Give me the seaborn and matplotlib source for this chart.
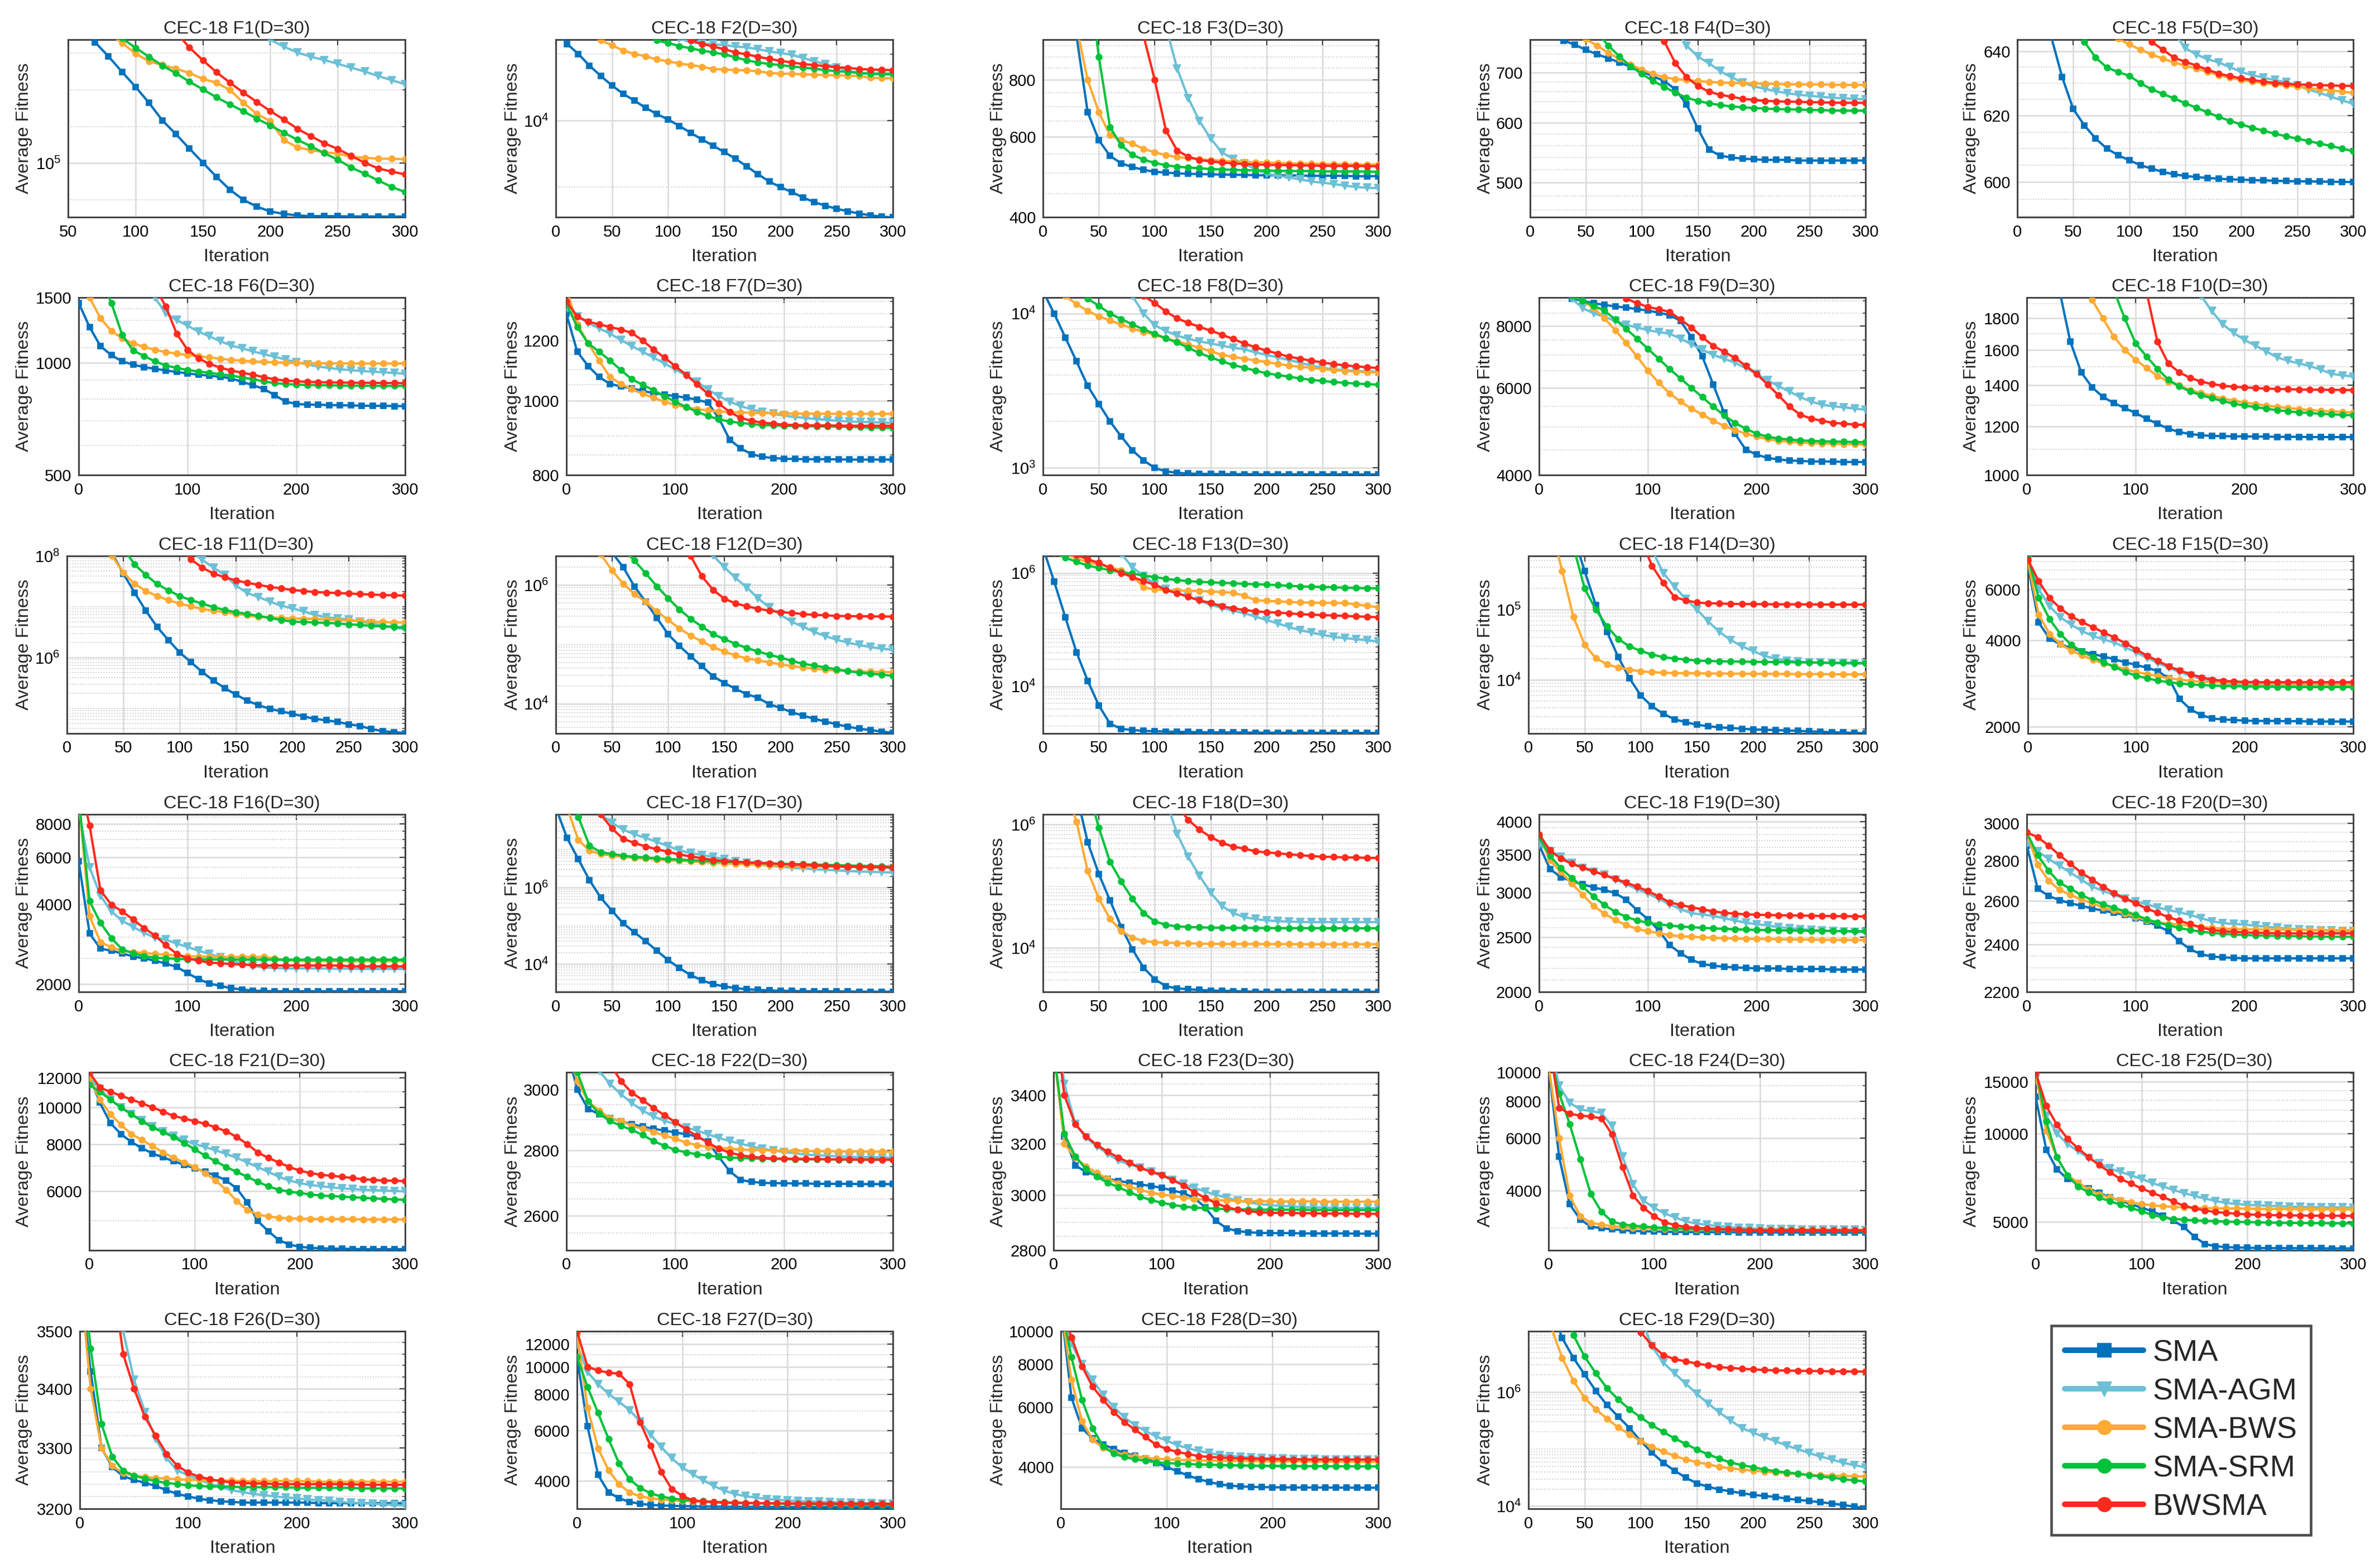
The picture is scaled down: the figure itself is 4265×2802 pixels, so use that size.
import numpy as np
import pandas as pd
import matplotlib
matplotlib.use("Agg")
import matplotlib.pyplot as plt
import seaborn as sns
from matplotlib.ticker import FixedLocator, FuncFormatter, MultipleLocator, LogLocator, NullLocator, NullFormatter
from matplotlib.lines import Line2D

# ---------------- data: average fitness read every 10 iterations ----------------
ITER = [0, 10, 20, 30, 40, 50, 60, 70, 80, 90, 100, 110, 120, 130, 140, 150, 160, 170, 180, 190,
        200, 210, 220, 230, 240, 250, 260, 270, 280, 290, 300]
ALGOS = ["SMA", "SMA-AGM", "SMA-BWS", "SMA-SRM", "BWSMA"]
TITLES = [f"CEC-18 F{i}(D=30)" for i in range(1, 30)]

F1_SMA = [3e6, 2.7e6, 2.5e6, 2.1e6, 1.8e6, 1.5e6, 1.27e6, 9.8e5, 7.5e5, 5.61e5, 4.23e5, 3.13e5, 2.24e5, 1.73e5, 1.32e5, 1.01e5, 7.76e4, 6.08e4, 5.02e4, 4.41e4, 4.03e4, 3.85e4, 3.74e4, 3.69e4, 3.69e4, 3.68e4, 3.67e4, 3.67e4, 3.66e4, 3.66e4, 3.66e4]
F1_AGM = [7e6, 6.5e6, 6e6, 5.5e6, 5e6, 4.5e6, 4e6, 3.75e6, 3.5e6, 3.25e6, 3e6, 2.75e6, 2.5e6, 2.25e6, 2e6, 1.8e6, 1.6e6, 1.45e6, 1.3e6, 1.15e6, 1.03e6, 9.03e5, 8.09e5, 7.46e5, 7.01e5, 6.53e5, 6.06e5, 5.65e5, 5.18e5, 4.8e5, 4.43e5]
F1_BWS = [5e6, 4.2e6, 3.5e6, 3e6, 2.5e6, 2.1e6, 1.7e6, 1.4e6, 1.17e6, 9.68e5, 7.93e5, 6.84e5, 6.38e5, 5.95e5, 5.49e5, 4.91e5, 4.57e5, 3.99e5, 3.13e5, 2.54e5, 2.21e5, 1.55e5, 1.35e5, 1.28e5, 1.23e5, 1.2e5, 1.13e5, 1.11e5, 1.09e5, 1.09e5, 1.08e5]
F1_SRM = [5e6, 4.5e6, 4e6, 3.5e6, 3e6, 2.5e6, 2e6, 1.6e6, 1.3e6, 1.06e6, 8.83e5, 7.46e5, 6.31e5, 5.46e5, 4.66e5, 4.03e5, 3.47e5, 3.04e5, 2.67e5, 2.32e5, 2.04e5, 1.78e5, 1.56e5, 1.38e5, 1.21e5, 1.07e5, 9.23e4, 8.22e4, 7.23e4, 6.4e4, 5.81e4]
F1_BW = [8e6, 7.2e6, 6.5e6, 6e6, 5.5e6, 5e6, 4.5e6, 4e6, 3.5e6, 3e6, 2.5e6, 2e6, 1.55e6, 1.18e6, 8.89e5, 6.97e5, 5.58e5, 4.58e5, 3.79e5, 3.18e5, 2.68e5, 2.28e5, 1.92e5, 1.67e5, 1.46e5, 1.31e5, 1.15e5, 1.01e5, 9.08e4, 8.55e4, 8.11e4]

F2_SMA = [2.6e4, 2.22e4, 2.0e4, 1.77e4, 1.59e4, 1.44e4, 1.32e4, 1.23e4, 1.14e4, 1.07e4, 1.01e4, 9.45e3, 8.8e3, 8.22e3, 7.7e3, 7.2e3, 6.72e3, 6.2e3, 5.72e3, 5.3e3, 5.0e3, 4.75e3, 4.49e3, 4.28e3, 4.12e3, 3.99e3, 3.89e3, 3.8e3, 3.73e3, 3.68e3, 3.65e3]
F2_AGM = [6.5e4, 6.1e4, 5.7e4, 5.3e4, 4.9e4, 4.55e4, 4.2e4, 3.85e4, 3.5e4, 3.1e4, 2.7e4, 2.35e4, 2.25e4, 2.23e4, 2.21e4, 2.19e4, 2.16e4, 2.14e4, 2.1e4, 2.05e4, 2.02e4, 1.98e4, 1.92e4, 1.85e4, 1.8e4, 1.74e4, 1.68e4, 1.64e4, 1.62e4, 1.61e4, 1.61e4]
F2_BWS = [3.3e4, 3.0e4, 2.75e4, 2.5e4, 2.3e4, 2.19e4, 2.07e4, 2.0e4, 1.95e4, 1.89e4, 1.85e4, 1.81e4, 1.78e4, 1.75e4, 1.71e4, 1.70e4, 1.69e4, 1.685e4, 1.67e4, 1.64e4, 1.63e4, 1.625e4, 1.62e4, 1.61e4, 1.605e4, 1.6e4, 1.595e4, 1.59e4, 1.56e4, 1.555e4, 1.55e4]
F2_SRM = [4.5e4, 4.2e4, 3.9e4, 3.6e4, 3.3e4, 3.05e4, 2.85e4, 2.65e4, 2.45e4, 2.3e4, 2.24e4, 2.17e4, 2.12e4, 2.07e4, 2.03e4, 1.99e4, 1.93e4, 1.87e4, 1.83e4, 1.8e4, 1.78e4, 1.755e4, 1.735e4, 1.715e4, 1.69e4, 1.67e4, 1.66e4, 1.64e4, 1.63e4, 1.63e4, 1.625e4]
F2_BW = [6e4, 5.6e4, 5.2e4, 4.85e4, 4.5e4, 4.2e4, 3.9e4, 3.6e4, 3.3e4, 3.0e4, 2.75e4, 2.5e4, 2.3e4, 2.22e4, 2.16e4, 2.1e4, 2.03e4, 1.99e4, 1.94e4, 1.9e4, 1.86e4, 1.83e4, 1.8e4, 1.78e4, 1.76e4, 1.74e4, 1.73e4, 1.71e4, 1.70e4, 1.695e4, 1.69e4]

F3_SMA = [2500, 1900, 1400, 1000, 680, 590, 545, 525, 515, 508, 503, 501, 499, 498, 497, 496.5, 496, 495.5, 495, 494.5, 494, 494, 494, 493.5, 493, 493, 493, 492.5, 492, 492, 492]
F3_AGM = [6000, 5500, 5000, 4500, 4000, 3500, 3000, 2600, 2200, 1800, 1400, 1050, 848, 730, 650, 595, 555, 537, 524, 510, 498, 493, 489, 484, 479, 476, 473, 469, 466, 464, 463]
F3_BWS = [3000, 2200, 1500, 1050, 800, 680, 605, 590, 580, 565, 555, 547, 542, 539, 536, 534, 532, 530, 529, 528, 527, 526, 525, 524.5, 524, 523.5, 523, 522.5, 522, 522, 522]
F3_SRM = [4000, 3200, 2500, 1900, 1400, 900, 630, 575, 548, 535, 526, 520, 516, 514, 512, 510, 509, 508, 507, 506.5, 506, 505.5, 505, 505, 505, 504.5, 504, 504, 504, 503.5, 503]
F3_BW = [5000, 4500, 4000, 3500, 3000, 2500, 2000, 1600, 1300, 1000, 800, 620, 560, 543, 534, 530, 527, 525, 523, 522, 521, 520.5, 520, 519.5, 519, 518.5, 518, 518, 518, 517.5, 517]

F4_SMA = [900, 860, 820, 772, 762, 750, 740, 731, 722, 712, 702, 692, 682, 665, 635, 590, 553, 543, 540, 538, 537, 536, 536, 536, 535, 535, 535, 535, 535, 535, 535]
F4_AGM = [1500, 1450, 1400, 1350, 1300, 1250, 1200, 1150, 1100, 1020, 950, 900, 850, 800, 760, 735, 720, 703, 690, 679, 671, 666, 661, 657, 654, 652, 650, 648, 647, 646, 645]
F4_BWS = [1100, 1020, 950, 880, 820, 775, 760, 743, 730, 717, 706, 697, 690, 686, 684, 682, 680, 679, 678, 677.5, 677, 676.5, 676, 675.5, 675, 675, 675, 674.5, 674, 674, 674]
F4_SRM = [1200, 1120, 1050, 970, 900, 840, 790, 760, 735, 713, 697, 682, 670, 658, 648, 642, 637, 634, 631, 629.5, 628, 627, 626, 625.5, 625, 624.5, 624, 623.5, 623, 623, 623]
F4_BW = [1400, 1350, 1300, 1250, 1200, 1150, 1100, 1020, 950, 900, 850, 810, 770, 720, 690, 672, 660, 654, 650, 646, 644, 642, 641, 640.5, 640, 639.5, 639, 638.5, 638, 638, 638]

F5_SMA = [700, 680, 665, 645, 632, 622, 617, 613, 610, 608, 606.5, 605, 604, 603, 602.3, 601.8, 601.5, 601.2, 601.0, 600.8, 600.7, 600.6, 600.5, 600.4, 600.3, 600.25, 600.2, 600.15, 600.1, 600.05, 600.0]
F5_AGM = [850, 835, 820, 805, 790, 775, 760, 745, 730, 715, 700, 685, 670, 656, 646, 641, 639, 637.5, 636.5, 635, 633.5, 632.5, 631.7, 631, 630.3, 629.3, 628, 627, 625.8, 624.7, 623.6]
F5_BWS = [720, 710, 700, 690, 680, 672, 665, 657, 650, 644, 642.2, 640.5, 639, 637.7, 636.5, 635.5, 634.5, 633.5, 632.5, 631.7, 631, 630.5, 630, 629.6, 629.3, 628.9, 628.5, 628.1, 627.8, 627.4, 627.0]
F5_SRM = [700, 690, 680, 670, 660, 651, 643, 638, 634.9, 633.5, 632.3, 630, 628.1, 626.7, 625.3, 623.8, 622.4, 621, 619.6, 618.4, 617.3, 616.3, 615.4, 614.5, 613.7, 613, 612.3, 611.5, 610.8, 610, 609.2]
F5_BW = [800, 785, 770, 755, 740, 725, 710, 695, 680, 670, 660, 650, 643, 640.5, 638, 636.7, 635.5, 634.2, 633, 632.2, 631.5, 631, 630.5, 630.1, 629.8, 629.6, 629.5, 629.4, 629.3, 629.2, 629.2]

F6_SMA = [1450, 1250, 1110, 1050, 1010, 990, 975, 965, 955, 946, 938, 930, 925, 918, 910, 890, 872, 852, 820, 788, 776, 773, 772, 771, 770, 769, 768, 767, 767, 766, 766]
F6_AGM = [3500, 3250, 3000, 2750, 2500, 2150, 1800, 1500, 1360, 1305, 1260, 1215, 1180, 1145, 1115, 1095, 1075, 1057, 1040, 1022, 1005, 991, 979, 970, 962, 957, 952, 948, 944, 940, 936]
F6_BWS = [1700, 1500, 1320, 1220, 1165, 1130, 1105, 1085, 1070, 1060, 1050, 1042, 1035, 1027, 1020, 1015, 1010, 1007, 1004, 1002, 1000, 999.5, 999, 998.5, 998, 997.5, 997, 997, 997, 997, 997]
F6_SRM = [2200, 1950, 1700, 1450, 1190, 1080, 1045, 1010, 985, 970, 958, 949, 941, 933, 925, 915, 905, 893, 883, 878, 875, 873, 872, 871, 870, 869.5, 869, 868.5, 868, 868, 868]
F6_BW = [3000, 2800, 2600, 2400, 2200, 2000, 1800, 1600, 1420, 1200, 1085, 1030, 995, 972, 955, 942, 930, 916, 904, 897, 893, 890, 888, 887, 886, 885.5, 885, 884.5, 884, 883.5, 883]

F7_SMA = [1300, 1160, 1111, 1075, 1053, 1045, 1039, 1031, 1024, 1019, 1015, 1010, 1004, 995, 950, 890, 867, 852, 845, 842, 840, 839.5, 839, 839, 839, 838.5, 838, 838, 838, 838, 838]
F7_AGM = [1320, 1290, 1265, 1245, 1225, 1202, 1180, 1160, 1140, 1120, 1100, 1080, 1060, 1035, 1015, 998, 985, 975, 968, 962, 957, 953, 950, 947, 944, 942, 940, 939, 938, 937, 936]
F7_BWS = [1400, 1260, 1190, 1130, 1075, 1053, 1036, 1022, 1010, 998, 988, 981, 976, 972, 969, 967, 966, 965, 964, 963.5, 963, 963, 963, 962.5, 962, 962, 962, 962, 962, 962, 962]
F7_SRM = [1340, 1250, 1190, 1160, 1130, 1098, 1068, 1050, 1033, 1015, 998, 982, 968, 956, 946, 940, 936, 933, 930, 929, 928, 927.5, 927, 926.5, 926, 925.5, 925, 924, 923, 922.5, 922]
F7_BW = [1350, 1290, 1270, 1260, 1250, 1240, 1228, 1200, 1168, 1140, 1111, 1082, 1052, 1022, 992, 968, 950, 942, 937, 934, 931, 930, 929, 929, 929, 928.5, 928, 928, 928, 928, 928]

F8_SMA = [1.4e4, 1.0e4, 7.0e3, 4.9e3, 3.4e3, 2.6e3, 2.0e3, 1.6e3, 1.3e3, 1.12e3, 1.0e3, 950, 930, 920, 915, 913, 912, 911, 911, 910, 910, 910, 910, 909, 909, 909, 909, 909, 908, 908, 908]
F8_AGM = [3.0e4, 2.75e4, 2.5e4, 2.25e4, 2.0e4, 1.8e4, 1.6e4, 1.45e4, 1.3e4, 1.0e4, 8.4e3, 7.7e3, 7.2e3, 6.85e3, 6.6e3, 6.4e3, 6.2e3, 6.0e3, 5.87e3, 5.6e3, 5.4e3, 5.2e3, 5.0e3, 4.8e3, 4.6e3, 4.45e3, 4.35e3, 4.3e3, 4.25e3, 4.22e3, 4.2e3]
F8_BWS = [1.6e4, 1.45e4, 1.3e4, 1.15e4, 1.04e4, 9.6e3, 9.0e3, 8.5e3, 8.0e3, 7.6e3, 7.3e3, 6.9e3, 6.6e3, 6.3e3, 6.0e3, 5.7e3, 5.4e3, 5.25e3, 5.1e3, 4.97e3, 4.85e3, 4.72e3, 4.6e3, 4.52e3, 4.45e3, 4.37e3, 4.3e3, 4.25e3, 4.2e3, 4.17e3, 4.15e3]
F8_SRM = [2.0e4, 1.8e4, 1.6e4, 1.42e4, 1.25e4, 1.12e4, 1.0e4, 9.2e3, 8.5e3, 7.9e3, 7.4e3, 6.9e3, 6.5e3, 6.0e3, 5.55e3, 5.2e3, 4.9e3, 4.65e3, 4.45e3, 4.27e3, 4.1e3, 4.0e3, 3.9e3, 3.8e3, 3.72e3, 3.66e3, 3.6e3, 3.56e3, 3.52e3, 3.49e3, 3.46e3]
F8_BW = [3.5e4, 3.25e4, 3.0e4, 2.75e4, 2.5e4, 2.25e4, 2.0e4, 1.75e4, 1.5e4, 1.3e4, 1.17e4, 1.03e4, 9.3e3, 8.7e3, 8.2e3, 7.75e3, 7.3e3, 6.85e3, 6.4e3, 6.05e3, 5.75e3, 5.5e3, 5.25e3, 5.1e3, 4.95e3, 4.82e3, 4.7e3, 4.62e3, 4.55e3, 4.49e3, 4.44e3]

F9_SMA = [1.0e4, 9.8e3, 9.6e3, 9.1e3, 9.0e3, 8.9e3, 8.83e3, 8.77e3, 8.72e3, 8.66e3, 8.6e3, 8.52e3, 8.42e3, 8.2e3, 7.6e3, 6.95e3, 6.1e3, 5.35e3, 4.85e3, 4.5e3, 4.4e3, 4.33e3, 4.3e3, 4.28e3, 4.27e3, 4.26e3, 4.26e3, 4.26e3, 4.25e3, 4.25e3, 4.25e3]
F9_AGM = [1.05e4, 1.0e4, 9.6e3, 9.1e3, 8.7e3, 8.5e3, 8.35e3, 8.2e3, 8.05e3, 7.95e3, 7.85e3, 7.78e3, 7.72e3, 7.55e3, 7.35e3, 7.17e3, 7.0e3, 6.87e3, 6.75e3, 6.58e3, 6.4e3, 6.22e3, 6.05e3, 5.9e3, 5.75e3, 5.63e3, 5.55e3, 5.51e3, 5.48e3, 5.45e3, 5.42e3]
F9_BWS = [1.0e4, 9.7e3, 9.5e3, 9.2e3, 9.0e3, 8.7e3, 8.3e3, 7.85e3, 7.4e3, 6.95e3, 6.5e3, 6.15e3, 5.85e3, 5.63e3, 5.45e3, 5.3e3, 5.15e3, 5.03e3, 4.93e3, 4.85e3, 4.78e3, 4.73e3, 4.69e3, 4.67e3, 4.65e3, 4.64e3, 4.63e3, 4.625e3, 4.62e3, 4.615e3, 4.61e3]
F9_SRM = [1.0e4, 9.7e3, 9.5e3, 9.2e3, 9.0e3, 8.8e3, 8.6e3, 8.25e3, 7.9e3, 7.55e3, 7.2e3, 6.87e3, 6.55e3, 6.27e3, 6.0e3, 5.75e3, 5.5e3, 5.28e3, 5.1e3, 4.96e3, 4.85e3, 4.78e3, 4.74e3, 4.72e3, 4.7e3, 4.69e3, 4.68e3, 4.675e3, 4.67e3, 4.665e3, 4.66e3]
F9_BW = [1.1e4, 1.08e4, 1.05e4, 1.02e4, 1.0e4, 9.8e3, 9.6e3, 9.3e3, 9.1e3, 8.9e3, 8.75e3, 8.65e3, 8.55e3, 8.25e3, 7.95e3, 7.6e3, 7.3e3, 7.1e3, 6.9e3, 6.65e3, 6.4e3, 6.1e3, 5.8e3, 5.5e3, 5.3e3, 5.2e3, 5.15e3, 5.1e3, 5.08e3, 5.06e3, 5.05e3]

F10_SMA = [2600, 2400, 2250, 2000, 1650, 1470, 1390, 1340, 1310, 1285, 1262, 1235, 1212, 1190, 1175, 1166, 1161, 1158, 1157, 1156, 1156, 1155, 1155, 1154, 1154, 1154, 1153, 1153, 1153, 1153, 1153]
F10_AGM = [4000, 3900, 3800, 3700, 3600, 3500, 3400, 3300, 3200, 3050, 2900, 2750, 2600, 2450, 2300, 2150, 1960, 1850, 1760, 1705, 1660, 1625, 1590, 1555, 1535, 1520, 1505, 1485, 1462, 1453, 1447]
F10_BWS = [3000, 2800, 2600, 2420, 2250, 2080, 1930, 1800, 1680, 1600, 1540, 1495, 1450, 1420, 1400, 1375, 1360, 1346, 1333, 1322, 1313, 1305, 1297, 1291, 1286, 1281, 1276, 1272, 1270, 1267, 1264]
F10_SRM = [3500, 3300, 3100, 2900, 2700, 2500, 2350, 2180, 2000, 1800, 1640, 1560, 1490, 1430, 1395, 1368, 1350, 1334, 1320, 1307, 1298, 1290, 1283, 1275, 1270, 1265, 1262, 1258, 1256, 1253, 1251]
F10_BW = [4000, 3850, 3700, 3550, 3400, 3250, 3100, 2950, 2800, 2600, 2400, 1990, 1650, 1520, 1470, 1440, 1420, 1407, 1398, 1392, 1389, 1386, 1383, 1381, 1380, 1378, 1377, 1377, 1376, 1376, 1375]

F11_SMA = [3.16e9, 1.58e9, 7.9e8, 3.16e8, 1.12e8, 4.5e7, 1.9e7, 8.3e6, 4.0e6, 2.2e6, 1.26e6, 8.1e5, 5.2e5, 3.5e5, 2.5e5, 1.86e5, 1.41e5, 1.15e5, 9.8e4, 8.7e4, 7.8e4, 6.9e4, 6.2e4, 5.8e4, 5.4e4, 4.85e4, 4.5e4, 3.9e4, 3.55e4, 3.4e4, 3.24e4]
F11_AGM = [3.16e10, 2.24e10, 1.58e10, 1.12e10, 8e9, 5e9, 3.16e9, 1.78e9, 1e9, 5e8, 2.5e8, 1.26e8, 8.3e7, 5.9e7, 4.2e7, 2.6e7, 1.86e7, 1.55e7, 1.26e7, 1.05e7, 9.3e6, 8.1e6, 6.9e6, 6.2e6, 5.9e6, 5.6e6, 5.1e6, 4.7e6, 4.3e6, 3.9e6, 3.6e6]
F11_BWS = [2e9, 1e9, 5e8, 2.24e8, 1e8, 4.7e7, 2.82e7, 2.04e7, 1.62e7, 1.35e7, 1.15e7, 1.02e7, 9.1e6, 8.3e6, 7.8e6, 7.2e6, 6.8e6, 6.3e6, 6.2e6, 6.0e6, 5.9e6, 5.8e6, 5.75e6, 5.6e6, 5.5e6, 5.4e6, 5.25e6, 5.1e6, 5.0e6, 4.95e6, 4.9e6]
F11_SRM = [3.16e9, 1.78e9, 1e9, 5.6e8, 3.16e8, 1.41e8, 6.8e7, 4.2e7, 2.8e7, 2.1e7, 1.62e7, 1.35e7, 1.15e7, 9.8e6, 8.6e6, 7.8e6, 7.2e6, 6.6e6, 6.0e6, 5.5e6, 5.1e6, 5.0e6, 4.9e6, 4.8e6, 4.7e6, 4.5e6, 4.4e6, 4.2e6, 4.1e6, 4.0e6, 3.9e6]
F11_BW = [3.16e10, 2.24e10, 1.58e10, 1e10, 6.3e9, 3.55e9, 2e9, 1.12e9, 6.3e8, 3.16e8, 1.58e8, 8.5e7, 5.9e7, 4.5e7, 3.8e7, 3.3e7, 2.95e7, 2.7e7, 2.45e7, 2.3e7, 2.14e7, 2.04e7, 1.95e7, 1.9e7, 1.86e7, 1.82e7, 1.78e7, 1.74e7, 1.7e7, 1.68e7, 1.66e7]

F12_SMA = [1e8, 5e7, 2.5e7, 1.26e7, 6.3e6, 3.55e6, 2e6, 9.5e5, 5.2e5, 2.8e5, 1.48e5, 9.5e4, 6.3e4, 4.3e4, 2.9e4, 2.24e4, 1.78e4, 1.45e4, 1.26e4, 9.8e3, 8.5e3, 7.2e3, 6.3e3, 5.6e3, 5.0e3, 4.5e3, 4.1e3, 3.8e3, 3.6e3, 3.4e3, 3.24e3]
F12_AGM = [1e9, 7.9e8, 7.1e8, 5.6e8, 4e8, 2.8e8, 2e8, 1.41e8, 1e8, 6.3e7, 4e7, 2.24e7, 1.2e7, 6.3e6, 3.16e6, 2e6, 1.32e6, 9.1e5, 6e5, 4.2e5, 3.16e5, 2.4e5, 2e5, 1.62e5, 1.38e5, 1.2e5, 1.07e5, 9.8e4, 9e4, 8.5e4, 8.1e4]
F12_BWS = [5e7, 2.8e7, 1.58e7, 7.9e6, 3.3e6, 1.78e6, 1.05e6, 7.1e5, 5.2e5, 3.6e5, 2.6e5, 1.86e5, 1.41e5, 1.12e5, 9e4, 7.6e4, 6.5e4, 5.8e4, 5.4e4, 5.0e4, 4.6e4, 4.3e4, 4.1e4, 3.9e4, 3.75e4, 3.63e4, 3.55e4, 3.5e4, 3.47e4, 3.43e4, 3.4e4]
F12_SRM = [1e8, 6.3e7, 4e7, 2.5e7, 1.5e7, 7.9e6, 4e6, 2.6e6, 1.58e6, 9.5e5, 6e5, 3.9e5, 2.7e5, 2e5, 1.5e5, 1.23e5, 1.02e5, 8.7e4, 7.6e4, 6.7e4, 6.0e4, 5.3e4, 4.7e4, 4.4e4, 4.1e4, 3.8e4, 3.55e4, 3.35e4, 3.2e4, 3.1e4, 2.95e4]
F12_BW = [1e9, 7.9e8, 6e8, 4.5e8, 3e8, 2e8, 1.5e8, 1e8, 5e7, 2.8e7, 1.5e7, 7.1e6, 3.1e6, 1.41e6, 8.3e5, 5.9e5, 4.9e5, 4.4e5, 4.0e5, 3.7e5, 3.5e5, 3.4e5, 3.25e5, 3.16e5, 3.1e5, 3.02e5, 3.0e5, 2.99e5, 2.97e5, 2.96e5, 2.95e5]

F13_SMA = [2.8e6, 7.1e5, 1.66e5, 4e4, 1.26e4, 4.6e3, 2.2e3, 1.78e3, 1.7e3, 1.64e3, 1.62e3, 1.6e3, 1.58e3, 1.57e3, 1.56e3, 1.55e3, 1.545e3, 1.54e3, 1.535e3, 1.53e3, 1.53e3, 1.525e3, 1.52e3, 1.52e3, 1.52e3, 1.515e3, 1.515e3, 1.51e3, 1.51e3, 1.51e3, 1.51e3]
F13_AGM = [2.5e7, 2e7, 1.26e7, 8.9e6, 6.3e6, 4.5e6, 3.16e6, 2.2e6, 1.26e6, 8.9e5, 6.3e5, 5.25e5, 4.5e5, 3.8e5, 3.24e5, 2.75e5, 2.43e5, 2.16e5, 1.95e5, 1.7e5, 1.48e5, 1.29e5, 1.12e5, 9.8e4, 8.9e4, 8.1e4, 7.5e4, 7.1e4, 6.8e4, 6.5e4, 6.2e4]
F13_BWS = [5e6, 3.16e6, 2.14e6, 1.82e6, 1.55e6, 1.41e6, 1.26e6, 1.12e6, 8.9e5, 5.6e5, 5.1e5, 5e5, 4.9e5, 4.85e5, 4.8e5, 4.7e5, 4.6e5, 4.5e5, 4e5, 3.3e5, 3.24e5, 3.16e5, 3.1e5, 3.02e5, 3.0e5, 2.99e5, 2.96e5, 2.95e5, 2.8e5, 2.63e5, 2.5e5]
F13_SRM = [3.16e6, 2.3e6, 1.86e6, 1.58e6, 1.35e6, 1.23e6, 1.12e6, 1.03e6, 9.8e5, 9e5, 8.5e5, 7.9e5, 7.5e5, 7.2e5, 7e5, 6.85e5, 6.7e5, 6.6e5, 6.45e5, 6.35e5, 6.25e5, 6.1e5, 5.95e5, 5.8e5, 5.7e5, 5.65e5, 5.6e5, 5.5e5, 5.45e5, 5.4e5, 5.37e5]
F13_BW = [7.9e6, 5e6, 3.16e6, 2.1e6, 1.74e6, 1.51e6, 1.23e6, 1e6, 8.5e5, 7.2e5, 6.2e5, 5e5, 4.4e5, 3.8e5, 3.3e5, 2.95e5, 2.6e5, 2.37e5, 2.24e5, 2.11e5, 2.04e5, 2e5, 1.94e5, 1.88e5, 1.84e5, 1.81e5, 1.78e5, 1.75e5, 1.72e5, 1.69e5, 1.66e5]

F14_SMA = [5e6, 4e6, 3.16e6, 2e6, 1.12e6, 3.55e5, 1.15e5, 4.8e4, 2.1e4, 1.05e4, 6.0e3, 4.2e3, 3.3e3, 2.75e3, 2.5e3, 2.3e3, 2.19e3, 2.11e3, 2.07e3, 2.02e3, 1.97e3, 1.95e3, 1.93e3, 1.9e3, 1.88e3, 1.85e3, 1.83e3, 1.8e3, 1.78e3, 1.76e3, 1.74e3]
F14_AGM = [5e8, 4e8, 3.16e8, 2.24e8, 1.58e8, 1e8, 5e7, 2.24e7, 1e7, 5e6, 2e6, 7.1e5, 3.3e5, 2.14e5, 1.41e5, 1e5, 6.8e4, 4.8e4, 3.7e4, 3.0e4, 2.57e4, 2.2e4, 2.0e4, 1.88e4, 1.82e4, 1.78e4, 1.75e4, 1.73e4, 1.72e4, 1.705e4, 1.7e4]
F14_BWS = [1e7, 4e6, 1.58e6, 3.55e5, 7.9e4, 3.16e4, 2.04e4, 1.66e4, 1.5e4, 1.4e4, 1.32e4, 1.29e4, 1.26e4, 1.25e4, 1.245e4, 1.24e4, 1.235e4, 1.23e4, 1.23e4, 1.225e4, 1.22e4, 1.22e4, 1.215e4, 1.215e4, 1.21e4, 1.21e4, 1.21e4, 1.205e4, 1.2e4, 1.2e4, 1.2e4]
F14_SRM = [5e7, 2e7, 7.9e6, 3.16e6, 7.9e5, 2e5, 1e5, 5.75e4, 3.8e4, 3.0e4, 2.57e4, 2.3e4, 2.1e4, 2.02e4, 1.95e4, 1.88e4, 1.86e4, 1.84e4, 1.83e4, 1.82e4, 1.81e4, 1.8e4, 1.795e4, 1.785e4, 1.78e4, 1.77e4, 1.76e4, 1.755e4, 1.75e4, 1.745e4, 1.74e4]
F14_BW = [5e8, 4e8, 3.16e8, 2.24e8, 1.58e8, 1e8, 5e7, 2.24e7, 1e7, 4e6, 1e6, 4.2e5, 2.4e5, 1.51e5, 1.35e5, 1.26e5, 1.23e5, 1.22e5, 1.21e5, 1.2e5, 1.2e5, 1.195e5, 1.19e5, 1.19e5, 1.19e5, 1.185e5, 1.185e5, 1.18e5, 1.18e5, 1.18e5, 1.175e5]

F15_SMA = [7300, 4600, 4050, 3870, 3750, 3660, 3580, 3510, 3430, 3350, 3280, 3210, 3120, 2950, 2500, 2300, 2200, 2140, 2125, 2115, 2105, 2100, 2100, 2100, 2095, 2095, 2090, 2090, 2090, 2090, 2090]
F15_AGM = [7600, 6000, 5240, 4800, 4520, 4300, 4130, 4020, 3920, 3770, 3630, 3470, 3330, 3210, 3100, 3010, 2930, 2880, 2840, 2810, 2800, 2795, 2790, 2790, 2785, 2785, 2780, 2780, 2780, 2780, 2780]
F15_BWS = [7500, 4900, 4200, 3870, 3680, 3540, 3420, 3320, 3250, 3170, 3100, 3050, 3000, 2950, 2920, 2890, 2870, 2860, 2850, 2845, 2840, 2835, 2830, 2830, 2825, 2825, 2820, 2820, 2820, 2820, 2820]
F15_SRM = [7800, 5600, 4730, 4200, 3850, 3650, 3500, 3350, 3230, 3100, 3010, 2950, 2895, 2860, 2830, 2810, 2795, 2785, 2775, 2770, 2765, 2760, 2760, 2755, 2755, 2750, 2750, 2750, 2750, 2750, 2750]
F15_BW = [7600, 6400, 5600, 5150, 4830, 4620, 4430, 4250, 4080, 3900, 3710, 3530, 3390, 3240, 3140, 3050, 2970, 2920, 2890, 2875, 2865, 2860, 2860, 2860, 2860, 2860, 2860, 2860, 2860, 2860, 2860]

F16_SMA = [5800, 3100, 2720, 2670, 2610, 2540, 2500, 2450, 2390, 2320, 2200, 2090, 2010, 1970, 1930, 1910, 1890, 1885, 1880, 1880, 1880, 1880, 1880, 1880, 1880, 1880, 1880, 1880, 1880, 1880, 1880]
F16_AGM = [9000, 5500, 4300, 3750, 3460, 3280, 3120, 2990, 2940, 2840, 2760, 2670, 2600, 2520, 2450, 2390, 2340, 2310, 2300, 2290, 2290, 2290, 2290, 2285, 2285, 2285, 2280, 2280, 2280, 2280, 2280]
F16_BWS = [10000, 3600, 2880, 2750, 2670, 2640, 2620, 2595, 2580, 2560, 2545, 2540, 2535, 2530, 2530, 2530, 2530, 2530, 2500, 2460, 2450, 2440, 2440, 2440, 2440, 2440, 2440, 2440, 2440, 2440, 2440]
F16_SRM = [10000, 4100, 3400, 2980, 2700, 2610, 2550, 2515, 2500, 2490, 2480, 2478, 2476, 2475, 2474, 2473, 2472, 2472, 2471, 2471, 2470, 2470, 2470, 2470, 2470, 2470, 2470, 2470, 2470, 2470, 2470]
F16_BW = [12000, 7900, 4500, 3980, 3750, 3500, 3250, 3050, 2800, 2600, 2500, 2450, 2410, 2395, 2380, 2370, 2360, 2350, 2350, 2350, 2350, 2350, 2350, 2350, 2350, 2330, 2330, 2330, 2330, 2330, 2330]

F17_SMA = [1.26e8, 2e7, 5.6e6, 1.58e6, 5.5e5, 2.5e5, 1.17e5, 6.8e4, 4e4, 2.24e4, 1.29e4, 7.9e3, 5.2e3, 3.8e3, 3.0e3, 2.63e3, 2.37e3, 2.21e3, 2.14e3, 2.07e3, 2.02e3, 2.0e3, 1.97e3, 1.96e3, 1.95e3, 1.94e3, 1.93e3, 1.92e3, 1.91e3, 1.905e3, 1.9e3]
F17_AGM = [3.16e9, 1e9, 4e8, 1.58e8, 8.3e7, 5e7, 3.3e7, 2.5e7, 2e7, 1.58e7, 1.23e7, 9.5e6, 8.1e6, 7.2e6, 6.4e6, 5.6e6, 5.0e6, 4.47e6, 4.03e6, 3.76e6, 3.55e6, 3.35e6, 3.2e6, 3.05e6, 2.95e6, 2.85e6, 2.72e6, 2.66e6, 2.6e6, 2.56e6, 2.5e6]
F17_BWS = [1e9, 1.26e8, 1.78e7, 9.3e6, 7.6e6, 6.9e6, 6.5e6, 6.0e6, 5.75e6, 5.5e6, 5.25e6, 5.1e6, 4.9e6, 4.7e6, 4.5e6, 4.35e6, 4.2e6, 4.1e6, 4.0e6, 3.85e6, 3.8e6, 3.73e6, 3.68e6, 3.63e6, 3.6e6, 3.55e6, 3.5e6, 3.48e6, 3.45e6, 3.42e6, 3.4e6]
F17_SRM = [1e9, 2.5e8, 7.1e7, 1.26e7, 8.5e6, 7.6e6, 6.9e6, 6.4e6, 6.2e6, 5.9e6, 5.6e6, 5.45e6, 5.25e6, 5.1e6, 4.95e6, 4.85e6, 4.7e6, 4.57e6, 4.4e6, 4.3e6, 4.25e6, 4.17e6, 4.1e6, 4.04e6, 3.96e6, 3.9e6, 3.82e6, 3.75e6, 3.68e6, 3.61e6, 3.55e6]
F17_BW = [3.16e9, 1e9, 4e8, 1.58e8, 8.3e7, 3.55e7, 1.9e7, 1.48e7, 1.2e7, 1.02e7, 8.7e6, 7.4e6, 6.6e6, 5.9e6, 5.3e6, 5.0e6, 4.8e6, 4.6e6, 4.47e6, 4.37e6, 4.2e6, 4.1e6, 4.0e6, 3.87e6, 3.77e6, 3.65e6, 3.56e6, 3.52e6, 3.47e6, 3.43e6, 3.4e6]

F18_SMA = [1e8, 4e7, 1.58e7, 3.16e6, 5.2e5, 1.58e5, 5.9e4, 2.2e4, 9.5e3, 4.8e3, 3.1e3, 2.4e3, 2.21e3, 2.14e3, 2.09e3, 2.04e3, 2.02e3, 2.0e3, 1.97e3, 1.96e3, 1.95e3, 1.95e3, 1.95e3, 1.95e3, 1.95e3, 1.95e3, 1.95e3, 1.95e3, 1.95e3, 1.95e3, 1.95e3]
F18_AGM = [1e10, 6.3e9, 4e9, 2.8e9, 2e9, 1.26e9, 6.3e8, 3.16e8, 1.26e8, 4e7, 1.26e7, 2.5e6, 7.1e5, 3e5, 1.48e5, 7.9e4, 4.8e4, 3.7e4, 3.16e4, 2.95e4, 2.79e4, 2.72e4, 2.68e4, 2.64e4, 2.63e4, 2.63e4, 2.63e4, 2.63e4, 2.63e4, 2.63e4, 2.63e4]
F18_BWS = [3.16e7, 1.26e7, 4e6, 1.12e6, 1.78e5, 6.3e4, 2.95e4, 1.9e4, 1.46e4, 1.3e4, 1.24e4, 1.22e4, 1.2e4, 1.19e4, 1.175e4, 1.17e4, 1.165e4, 1.16e4, 1.16e4, 1.16e4, 1.155e4, 1.155e4, 1.155e4, 1.15e4, 1.15e4, 1.15e4, 1.15e4, 1.15e4, 1.15e4, 1.15e4, 1.15e4]
F18_SRM = [3.16e8, 1.58e8, 6.3e7, 2e7, 4e6, 8.9e5, 2.5e5, 1.2e5, 6.3e4, 3.7e4, 2.7e4, 2.37e4, 2.24e4, 2.19e4, 2.16e4, 2.14e4, 2.13e4, 2.12e4, 2.12e4, 2.11e4, 2.11e4, 2.1e4, 2.1e4, 2.1e4, 2.1e4, 2.1e4, 2.09e4, 2.09e4, 2.09e4, 2.09e4, 2.09e4]
F18_BW = [1e10, 6.3e9, 4e9, 2.8e9, 2e9, 1.26e9, 6.3e8, 3.55e8, 2e8, 1e8, 5e7, 1.58e7, 2e6, 1.2e6, 8.3e5, 6.3e5, 5.1e5, 4.4e5, 4.1e5, 3.7e5, 3.55e5, 3.43e5, 3.3e5, 3.2e5, 3.1e5, 3.02e5, 2.99e5, 2.95e5, 2.93e5, 2.9e5, 2.88e5]

F19_SMA = [3640, 3300, 3190, 3140, 3100, 3060, 3030, 2990, 2910, 2790, 2690, 2570, 2420, 2340, 2280, 2240, 2225, 2215, 2210, 2205, 2200, 2200, 2200, 2195, 2195, 2195, 2195, 2190, 2190, 2190, 2190]
F19_AGM = [3640, 3550, 3470, 3380, 3310, 3260, 3220, 3160, 3100, 3040, 2985, 2920, 2860, 2800, 2755, 2740, 2725, 2700, 2675, 2650, 2635, 2620, 2605, 2592, 2582, 2575, 2568, 2562, 2557, 2553, 2550]
F19_BWS = [3790, 3420, 3260, 3110, 2970, 2840, 2750, 2680, 2625, 2585, 2560, 2540, 2520, 2510, 2503, 2497, 2492, 2488, 2485, 2483, 2481, 2480, 2478, 2476, 2475, 2474, 2473, 2472, 2471, 2470, 2470]
F19_SRM = [3760, 3480, 3310, 3180, 3070, 2950, 2850, 2770, 2715, 2675, 2650, 2633, 2620, 2610, 2603, 2596, 2590, 2585, 2580, 2577, 2574, 2572, 2570, 2568, 2566, 2565, 2564, 2563, 2562, 2561, 2560]
F19_BW = [3800, 3560, 3440, 3370, 3320, 3270, 3220, 3170, 3120, 3070, 3015, 2950, 2880, 2850, 2822, 2800, 2775, 2760, 2750, 2742, 2738, 2735, 2733, 2731, 2729, 2727, 2725, 2723, 2722, 2721, 2720]

F20_SMA = [2880, 2660, 2625, 2605, 2590, 2578, 2565, 2555, 2545, 2535, 2520, 2505, 2485, 2460, 2415, 2380, 2358, 2348, 2344, 2342, 2340, 2340, 2340, 2340, 2340, 2340, 2340, 2340, 2340, 2340, 2340]
F20_AGM = [2890, 2850, 2810, 2775, 2740, 2705, 2670, 2650, 2630, 2612, 2598, 2585, 2570, 2558, 2547, 2535, 2520, 2505, 2497, 2493, 2490, 2485, 2480, 2476, 2472, 2468, 2465, 2463, 2462, 2461, 2460]
F20_BWS = [2950, 2780, 2700, 2655, 2630, 2608, 2590, 2570, 2555, 2540, 2525, 2510, 2500, 2494, 2490, 2485, 2480, 2476, 2472, 2470, 2469, 2468, 2467, 2467, 2466, 2466, 2465, 2465, 2465, 2465, 2465]
F20_SRM = [2950, 2830, 2750, 2690, 2660, 2630, 2605, 2585, 2568, 2552, 2535, 2515, 2500, 2487, 2475, 2465, 2458, 2452, 2448, 2445, 2443, 2441, 2440, 2439, 2438, 2437, 2436, 2436, 2435, 2435, 2435]
F20_BW = [2950, 2925, 2880, 2830, 2785, 2740, 2705, 2670, 2640, 2613, 2590, 2565, 2545, 2525, 2508, 2493, 2477, 2465, 2460, 2457, 2455, 2453, 2452, 2451, 2450, 2450, 2450, 2450, 2450, 2450, 2450]

F21_SMA = [12200, 10300, 9100, 8500, 8100, 7800, 7550, 7380, 7200, 7050, 6900, 6750, 6600, 6400, 6100, 5600, 5000, 4700, 4450, 4330, 4270, 4245, 4230, 4225, 4220, 4215, 4210, 4210, 4210, 4210, 4210]
F21_AGM = [12000, 11200, 10500, 10000, 9600, 9250, 8900, 8650, 8400, 8200, 8000, 7850, 7700, 7530, 7350, 7150, 6950, 6750, 6550, 6400, 6300, 6230, 6180, 6140, 6100, 6075, 6050, 6035, 6020, 6005, 5990]
F21_BWS = [12000, 10500, 9600, 9000, 8500, 8200, 7900, 7600, 7350, 7150, 6950, 6700, 6400, 6050, 5650, 5350, 5200, 5140, 5100, 5080, 5070, 5065, 5060, 5060, 5060, 5055, 5050, 5050, 5050, 5050, 5050]
F21_SRM = [11500, 11000, 10500, 10000, 9600, 9200, 8850, 8600, 8350, 8050, 7750, 7450, 7200, 6950, 6750, 6550, 6350, 6180, 6050, 5980, 5930, 5880, 5840, 5820, 5800, 5780, 5760, 5740, 5720, 5705, 5690]
F21_BW = [12400, 11300, 11000, 10750, 10500, 10250, 10000, 9750, 9500, 9350, 9200, 9050, 8850, 8650, 8350, 8000, 7600, 7350, 7150, 6950, 6800, 6700, 6630, 6590, 6550, 6500, 6450, 6425, 6400, 6390, 6380]

F22_SMA = [3150, 3000, 2935, 2918, 2905, 2894, 2885, 2877, 2870, 2864, 2858, 2852, 2845, 2828, 2780, 2735, 2708, 2702, 2699, 2698, 2698, 2697, 2697, 2696, 2696, 2696, 2696, 2695, 2695, 2695, 2695]
F22_AGM = [3300, 3200, 3120, 3065, 3020, 2985, 2955, 2930, 2910, 2896, 2885, 2874, 2864, 2852, 2840, 2830, 2822, 2813, 2806, 2800, 2795, 2791, 2787, 2785, 2783, 2781, 2780, 2779, 2779, 2778, 2778]
F22_BWS = [3150, 3030, 2960, 2930, 2905, 2895, 2880, 2870, 2860, 2848, 2838, 2825, 2817, 2811, 2808, 2806, 2803, 2802, 2801, 2800, 2799, 2799, 2799, 2798, 2798, 2797, 2797, 2797, 2796, 2796, 2796]
F22_SRM = [3150, 3060, 2960, 2920, 2895, 2880, 2866, 2850, 2830, 2815, 2802, 2794, 2788, 2784, 2780, 2778, 2776, 2775, 2774, 2773, 2773, 2772, 2772, 2772, 2772, 2771, 2771, 2771, 2771, 2771, 2771]
F22_BW = [3350, 3280, 3200, 3150, 3090, 3030, 2990, 2965, 2938, 2915, 2892, 2868, 2846, 2825, 2806, 2793, 2785, 2780, 2777, 2775, 2774, 2774, 2773, 2773, 2772, 2772, 2772, 2771, 2771, 2771, 2771]

F23_SMA = [3600, 3230, 3115, 3088, 3075, 3063, 3054, 3048, 3041, 3035, 3028, 3018, 3008, 2990, 2955, 2905, 2878, 2868, 2864, 2862, 2861, 2861, 2861, 2860, 2860, 2860, 2860, 2860, 2859, 2859, 2859]
F23_AGM = [3800, 3450, 3280, 3225, 3190, 3160, 3133, 3118, 3106, 3090, 3073, 3058, 3042, 3028, 3014, 3002, 2990, 2980, 2973, 2967, 2963, 2960, 2958, 2956, 2955, 2954, 2953, 2953, 2952, 2952, 2952]
F23_BWS = [3600, 3200, 3145, 3110, 3085, 3062, 3046, 3032, 3020, 3010, 3003, 2997, 2991, 2987, 2984, 2982, 2980, 2979, 2978, 2978, 2977, 2977, 2977, 2977, 2977, 2976, 2976, 2976, 2976, 2976, 2976]
F23_SRM = [3600, 3240, 3150, 3100, 3070, 3048, 3030, 3012, 2995, 2982, 2972, 2964, 2958, 2954, 2952, 2950, 2948, 2947, 2947, 2946, 2946, 2946, 2946, 2946, 2945, 2945, 2945, 2945, 2945, 2945, 2945]
F23_BW = [3800, 3400, 3280, 3230, 3195, 3168, 3145, 3125, 3105, 3090, 3078, 3058, 3037, 3012, 2990, 2970, 2955, 2946, 2940, 2937, 2935, 2934, 2934, 2933, 2933, 2932, 2932, 2932, 2931, 2931, 2931]

F24_SMA = [10500, 5200, 3600, 3200, 3030, 2990, 2965, 2945, 2930, 2920, 2915, 2910, 2905, 2902, 2900, 2900, 2900, 2900, 2898, 2896, 2895, 2894, 2893, 2892, 2891, 2890, 2890, 2890, 2890, 2890, 2890]
F24_AGM = [13000, 9000, 7900, 7500, 7400, 7300, 6600, 5200, 4200, 3700, 3500, 3350, 3250, 3150, 3100, 3070, 3040, 3020, 3000, 2990, 2980, 2975, 2970, 2965, 2960, 2958, 2956, 2954, 2952, 2951, 2950]
F24_BWS = [10500, 6000, 3850, 3280, 3120, 3070, 3040, 3015, 3000, 2990, 2980, 2975, 2970, 2965, 2962, 2960, 2958, 2957, 2956, 2955, 2954, 2953, 2953, 2952, 2952, 2951, 2951, 2950, 2950, 2950, 2950]
F24_SRM = [12000, 8500, 6700, 5100, 3900, 3400, 3150, 3080, 3050, 3030, 3010, 2995, 2985, 2975, 2968, 2962, 2958, 2954, 2950, 2948, 2945, 2943, 2941, 2939, 2937, 2935, 2934, 2933, 2932, 2931, 2930]
F24_BW = [13000, 7600, 7250, 7150, 7100, 7000, 6200, 4800, 3850, 3500, 3280, 3130, 3060, 3020, 3000, 2985, 2975, 2965, 2955, 2950, 2945, 2944, 2943, 2942, 2942, 2941, 2941, 2940, 2940, 2940, 2940]

F25_SMA = [13300, 8800, 7550, 7000, 6750, 6500, 6270, 6060, 5900, 5740, 5590, 5430, 5250, 5050, 4800, 4450, 4200, 4130, 4100, 4090, 4080, 4075, 4070, 4070, 4068, 4066, 4064, 4062, 4060, 4060, 4060]
F25_AGM = [15300, 11500, 10000, 9200, 8700, 8250, 7900, 7600, 7400, 7200, 7000, 6780, 6600, 6420, 6260, 6130, 6000, 5890, 5800, 5750, 5710, 5690, 5670, 5650, 5630, 5620, 5610, 5605, 5600, 5595, 5590]
F25_BWS = [16000, 10200, 8300, 7200, 6800, 6450, 6200, 6050, 5930, 5830, 5750, 5690, 5650, 5620, 5595, 5580, 5570, 5560, 5555, 5550, 5545, 5540, 5535, 5530, 5525, 5520, 5520, 5515, 5510, 5510, 5510]
F25_SRM = [16500, 11000, 8300, 7200, 6600, 6300, 6050, 5880, 5720, 5580, 5430, 5280, 5180, 5120, 5080, 5060, 5040, 5025, 5010, 5000, 4990, 4980, 4970, 4965, 4960, 4955, 4950, 4948, 4945, 4942, 4940]
F25_BW = [16100, 12400, 10700, 9600, 8900, 8300, 7800, 7380, 7000, 6750, 6500, 6280, 6080, 5870, 5670, 5560, 5460, 5400, 5360, 5330, 5300, 5285, 5275, 5265, 5260, 5255, 5250, 5248, 5245, 5242, 5240]

F26_SMA = [3600, 3430, 3300, 3268, 3253, 3247, 3242, 3237, 3230, 3224, 3220, 3216, 3214, 3212, 3211, 3210, 3210, 3210, 3210, 3210, 3210, 3210, 3209, 3209, 3209, 3209, 3209, 3209, 3209, 3209, 3209]
F26_AGM = [4100, 3950, 3800, 3650, 3500, 3415, 3360, 3315, 3283, 3262, 3255, 3247, 3241, 3235, 3230, 3227, 3224, 3222, 3220, 3218, 3217, 3215, 3214, 3213, 3211, 3210, 3209, 3208, 3207, 3206, 3205]
F26_BWS = [3600, 3400, 3300, 3270, 3258, 3254, 3252, 3250, 3249, 3248, 3247, 3247, 3246, 3246, 3246, 3245, 3245, 3245, 3245, 3245, 3245, 3245, 3244, 3244, 3244, 3244, 3244, 3244, 3244, 3244, 3244]
F26_SRM = [3650, 3470, 3340, 3285, 3262, 3254, 3249, 3245, 3242, 3240, 3238, 3237, 3236, 3236, 3236, 3235, 3235, 3235, 3235, 3235, 3234, 3234, 3234, 3234, 3234, 3234, 3233, 3233, 3233, 3233, 3233]
F26_BW = [4100, 3950, 3800, 3600, 3460, 3400, 3352, 3320, 3290, 3270, 3259, 3252, 3248, 3245, 3243, 3242, 3241, 3241, 3240, 3240, 3240, 3240, 3240, 3240, 3240, 3240, 3239, 3239, 3239, 3239, 3239]

F27_SMA = [10800, 6200, 4200, 3650, 3480, 3380, 3330, 3300, 3285, 3275, 3268, 3262, 3258, 3255, 3252, 3250, 3250, 3249, 3248, 3247, 3246, 3245, 3244, 3243, 3242, 3242, 3241, 3241, 3240, 3240, 3240]
F27_AGM = [12000, 9600, 8700, 8050, 7550, 7050, 6450, 5800, 5250, 4800, 4460, 4220, 4020, 3840, 3700, 3600, 3540, 3500, 3460, 3440, 3420, 3405, 3395, 3385, 3375, 3368, 3360, 3352, 3345, 3338, 3333]
F27_BWS = [13000, 7200, 5200, 4350, 3900, 3640, 3540, 3480, 3445, 3425, 3408, 3395, 3380, 3370, 3362, 3355, 3350, 3345, 3340, 3337, 3334, 3331, 3328, 3325, 3322, 3320, 3318, 3316, 3314, 3312, 3310]
F27_SRM = [10800, 8500, 6900, 5600, 4600, 4050, 3780, 3620, 3530, 3475, 3445, 3420, 3400, 3380, 3370, 3360, 3352, 3345, 3340, 3335, 3330, 3325, 3320, 3316, 3312, 3310, 3308, 3306, 3304, 3302, 3300]
F27_BW = [13300, 10000, 9700, 9550, 9450, 8700, 6400, 5300, 4300, 3750, 3550, 3420, 3395, 3375, 3360, 3355, 3350, 3348, 3345, 3343, 3340, 3339, 3338, 3337, 3336, 3335, 3334, 3333, 3332, 3331, 3330]

F28_SMA = [12000, 6400, 5200, 4850, 4660, 4520, 4400, 4320, 4240, 4120, 4000, 3890, 3780, 3690, 3620, 3560, 3530, 3510, 3500, 3495, 3490, 3488, 3486, 3485, 3484, 3483, 3482, 3481, 3480, 3480, 3480]
F28_AGM = [13000, 9200, 8000, 7200, 6500, 6000, 5600, 5300, 5100, 4920, 4780, 4640, 4540, 4460, 4400, 4340, 4310, 4290, 4270, 4255, 4240, 4235, 4228, 4222, 4216, 4212, 4208, 4205, 4203, 4201, 4200]
F28_BWS = [12000, 7200, 5450, 4810, 4550, 4420, 4350, 4300, 4260, 4235, 4215, 4200, 4190, 4185, 4180, 4175, 4170, 4168, 4165, 4162, 4160, 4158, 4155, 4153, 4151, 4150, 4148, 4146, 4144, 4142, 4140]
F28_SRM = [12000, 8400, 6300, 5200, 4600, 4380, 4280, 4220, 4170, 4135, 4110, 4095, 4080, 4072, 4065, 4058, 4050, 4045, 4040, 4035, 4032, 4030, 4028, 4026, 4025, 4024, 4023, 4022, 4021, 4020, 4020]
F28_BW = [12000, 9600, 7900, 6880, 6300, 5800, 5420, 5150, 4900, 4650, 4520, 4430, 4370, 4310, 4285, 4265, 4250, 4240, 4232, 4226, 4220, 4216, 4213, 4210, 4210, 4210, 4210, 4210, 4210, 4210, 4210]

F29_SMA = [3.16e8, 1e8, 3.16e7, 8.9e6, 4e6, 2.04e6, 1.05e6, 5.9e5, 3.7e5, 2.34e5, 1.38e5, 8.7e4, 5.75e4, 4.2e4, 3.16e4, 2.5e4, 2.19e4, 1.95e4, 1.82e4, 1.68e4, 1.58e4, 1.51e4, 1.45e4, 1.35e4, 1.29e4, 1.23e4, 1.17e4, 1.11e4, 1.05e4, 9.8e3, 9.1e3]
F29_AGM = [1e10, 6.3e9, 4e9, 2.5e9, 1.58e9, 1e9, 5e8, 2.5e8, 1.26e8, 5e7, 2e7, 6.3e6, 3.3e6, 2.14e6, 1.41e6, 9.3e5, 6.3e5, 4.4e5, 3.16e5, 2.34e5, 1.95e5, 1.62e5, 1.38e5, 1.15e5, 1e5, 8.5e4, 7.4e4, 6.6e4, 5.75e4, 5.25e4, 4.8e4]
F29_BWS = [3.16e8, 5e7, 1.41e7, 4e6, 1.58e6, 7.9e5, 5e5, 3.4e5, 2.4e5, 1.82e5, 1.38e5, 1.1e5, 9.1e4, 7.6e4, 6.6e4, 5.9e4, 5.4e4, 4.9e4, 4.6e4, 4.4e4, 4.2e4, 4.0e4, 3.9e4, 3.75e4, 3.63e4, 3.53e4, 3.47e4, 3.43e4, 3.39e4, 3.35e4, 3.31e4]
F29_SRM = [1e9, 3.16e8, 1e8, 3.16e7, 1e7, 4.2e6, 2.14e6, 1.17e6, 7.4e5, 5e5, 3.6e5, 2.63e5, 2e5, 1.55e5, 1.23e5, 9.8e4, 8.1e4, 6.8e4, 5.8e4, 5.25e4, 4.8e4, 4.4e4, 4.1e4, 3.9e4, 3.7e4, 3.5e4, 3.3e4, 3.16e4, 2.99e4, 2.82e4, 2.7e4]
F29_BW = [1e10, 6.3e9, 4e9, 2.5e9, 1.58e9, 7.9e8, 4e8, 1.58e8, 6.3e7, 2.5e7, 1.12e7, 6.6e6, 4.47e6, 3.8e6, 3.47e6, 3.16e6, 2.95e6, 2.75e6, 2.66e6, 2.57e6, 2.51e6, 2.45e6, 2.41e6, 2.39e6, 2.37e6, 2.35e6, 2.34e6, 2.32e6, 2.31e6, 2.3e6, 2.29e6]

SERIES = [
    (F1_SMA, F1_AGM, F1_BWS, F1_SRM, F1_BW), (F2_SMA, F2_AGM, F2_BWS, F2_SRM, F2_BW),
    (F3_SMA, F3_AGM, F3_BWS, F3_SRM, F3_BW), (F4_SMA, F4_AGM, F4_BWS, F4_SRM, F4_BW),
    (F5_SMA, F5_AGM, F5_BWS, F5_SRM, F5_BW), (F6_SMA, F6_AGM, F6_BWS, F6_SRM, F6_BW),
    (F7_SMA, F7_AGM, F7_BWS, F7_SRM, F7_BW), (F8_SMA, F8_AGM, F8_BWS, F8_SRM, F8_BW),
    (F9_SMA, F9_AGM, F9_BWS, F9_SRM, F9_BW), (F10_SMA, F10_AGM, F10_BWS, F10_SRM, F10_BW),
    (F11_SMA, F11_AGM, F11_BWS, F11_SRM, F11_BW), (F12_SMA, F12_AGM, F12_BWS, F12_SRM, F12_BW),
    (F13_SMA, F13_AGM, F13_BWS, F13_SRM, F13_BW), (F14_SMA, F14_AGM, F14_BWS, F14_SRM, F14_BW),
    (F15_SMA, F15_AGM, F15_BWS, F15_SRM, F15_BW), (F16_SMA, F16_AGM, F16_BWS, F16_SRM, F16_BW),
    (F17_SMA, F17_AGM, F17_BWS, F17_SRM, F17_BW), (F18_SMA, F18_AGM, F18_BWS, F18_SRM, F18_BW),
    (F19_SMA, F19_AGM, F19_BWS, F19_SRM, F19_BW), (F20_SMA, F20_AGM, F20_BWS, F20_SRM, F20_BW),
    (F21_SMA, F21_AGM, F21_BWS, F21_SRM, F21_BW), (F22_SMA, F22_AGM, F22_BWS, F22_SRM, F22_BW),
    (F23_SMA, F23_AGM, F23_BWS, F23_SRM, F23_BW), (F24_SMA, F24_AGM, F24_BWS, F24_SRM, F24_BW),
    (F25_SMA, F25_AGM, F25_BWS, F25_SRM, F25_BW), (F26_SMA, F26_AGM, F26_BWS, F26_SRM, F26_BW),
    (F27_SMA, F27_AGM, F27_BWS, F27_SRM, F27_BW), (F28_SMA, F28_AGM, F28_BWS, F28_SRM, F28_BW),
    (F29_SMA, F29_AGM, F29_BWS, F29_SRM, F29_BW),
]
for _i, _group in enumerate(SERIES):
    for _k, _s in enumerate(_group):
        if len(_s) != len(ITER):
            raise ValueError(f"F{_i + 1} series {ALGOS[_k]} has {len(_s)} values")

# y-axis settings: (ymin, ymax, major ticks, minor spec)
YAXES = [
    (3.62e4, 1.03e6, [1e5], [5e4, 2e5, 4e5, 8e5]),
    (3.66e3, 2.32e4, [1e4], [5e3, 2e4]),
    (400, 981, [400, 600, 800], 50),
    (450, 774, [500, 600, 700], 20),
    (589.7, 643.7, [600, 620, 640], 5),
    (500, 1500, [500, 1000, 1500], 100),
    (800, 1366, [800, 1000, 1200], 50),
    (900, 1.27e4, [1e3, 1e4], 'log'),
    (4000, 9140, [4000, 6000, 8000], 500),
    (1000, 1946, [1000, 1200, 1400, 1600, 1800], 100),
    (3.2e4, 1e8, [1e6, 1e8], 'log'),
    (3.16e3, 3.1e6, [1e4, 1e6], 'log'),
    (1.48e3, 2e6, [1e4, 1e6], 'log'),
    (1.73e3, 5.8e5, [1e4, 1e5], 'log'),
    (1900, 7830, [2000, 4000, 6000], 500),
    (1870, 8690, [2000, 4000, 6000, 8000], 500),
    (1.89e3, 8.3e7, [1e4, 1e6], 'log'),
    (1.94e3, 1.47e6, [1e4, 1e6], 'log'),
    (2000, 4120, [2000, 2500, 3000, 3500, 4000], 100),
    (2200, 3050, [2200, 2400, 2600, 2800, 3000], 50),
    (4180, 12400, [6000, 8000, 10000, 12000], 1000),
    (2500, 3060, [2600, 2800, 3000], 50),
    (2800, 3500, [2800, 3000, 3200, 3400], 50),
    (2520, 10000, [4000, 6000, 8000, 10000], 1000),
    (4000, 16150, [5000, 10000, 15000], 1000),
    (3200, 3500, [3200, 3300, 3400, 3500], 20),
    (3200, 13300, [4000, 6000, 8000, 10000, 12000], 1000),
    (3020, 10000, [4000, 6000, 8000, 10000], 1000),
    (9.0e3, 1.17e7, [1e4, 1e6], 'log'),
]
POWER_TICKS = {0, 1, 7, 10, 11, 12, 13, 16, 17, 28}
XSTEP = [50, 50, 50, 50, 50, 100, 100, 50, 100, 100, 50, 50, 50, 50, 100,
         100, 50, 50, 100, 100, 100, 100, 100, 100, 100, 100, 100, 100, 50]

# ---------------- style ----------------
COLORS = ["#0072BD", "#6CC0D6", "#FFAA33", "#00C23A", "#FF2A1E"]
MARKERS = ["s", "v", "o", "o", "o"]
MSIZES = [2.6, 3.2, 2.6, 2.6, 2.6]

sns.set_style("white")
plt.rcParams["font.family"] = ["Liberation Sans", "DejaVu Sans"]
plt.rcParams["mathtext.default"] = "regular"

W, H = 4265, 2802
fig = plt.figure(figsize=(W / 300, H / 300), dpi=300)

COL_RIGHT = [726, 1600, 2470, 3343, 4217]
ROW_TOP = [71, 533, 996, 1459, 1921, 2385]
ROW_BOTTOM = [389, 851, 1314, 1777, 2240, 2703]
PANEL_LEFT = [122, 996, 1869, 2742, 3615, 141, 1015, 1869, 2758, 3632, 120, 996, 1869, 2739, 3634,
              141, 996, 1869, 2758, 3632, 160, 1015, 1888, 2775, 3648, 143, 1034, 1901, 2739]
YLABEL_X = [43, 919, 1789, 2662, 3533]
SPINE = "#404040"

for i in range(29):
    r, c = divmod(i, 5)
    left, right = PANEL_LEFT[i], COL_RIGHT[c]
    top, bottom = ROW_TOP[r], ROW_BOTTOM[r]
    wpx, hpx = right - left, bottom - top
    ax = fig.add_axes([left / W, 1 - bottom / H, wpx / W, hpx / H])
    ax.set_yscale("log")

    for k in range(5):
        df = pd.DataFrame({"Iteration": ITER, "Fitness": SERIES[i][k]})
        sns.lineplot(data=df, x="Iteration", y="Fitness", ax=ax, color=COLORS[k],
                     marker=MARKERS[k], markersize=MSIZES[k], linewidth=1.0,
                     markeredgecolor=COLORS[k], markeredgewidth=0.4,
                     errorbar=None, legend=False, zorder=3 + k)

    ymin, ymax, majors, minor = YAXES[i]
    ax.set_ylim(ymin, ymax)
    ax.set_xlim(50 if i == 0 else 0, 300)
    ax.xaxis.set_major_locator(MultipleLocator(XSTEP[i]))
    ax.xaxis.set_minor_locator(NullLocator())
    ax.yaxis.set_major_locator(FixedLocator(majors))
    if i in POWER_TICKS:
        ax.yaxis.set_major_formatter(FuncFormatter(lambda v, p: r"$10^{%d}$" % int(round(np.log10(v)))))
    else:
        ax.yaxis.set_major_formatter(FuncFormatter(lambda v, p: f"{v:g}"))
    if minor == "log":
        ax.yaxis.set_minor_locator(LogLocator(base=10, subs=np.arange(1, 10), numticks=60))
    elif isinstance(minor, list):
        ax.yaxis.set_minor_locator(FixedLocator(minor))
    else:
        ax.yaxis.set_minor_locator(MultipleLocator(minor))
    ax.yaxis.set_minor_formatter(NullFormatter())

    ax.grid(True, which="major", color="#dadada", linewidth=0.6, linestyle="-")
    ax.grid(True, which="minor", axis="y", color="#cdcdcd", linewidth=0.45, linestyle=(0, (1, 1.5)))
    ax.set_axisbelow(True)
    for s in ax.spines.values():
        s.set_visible(True)
        s.set_color(SPINE)
        s.set_linewidth(0.7)
    ax.tick_params(which="major", direction="in", length=2.5, width=0.5, color=SPINE,
                   top=True, right=True, labelsize=7, pad=3, labelcolor="black")
    ax.tick_params(which="minor", direction="in", length=1.3, width=0.4, color=SPINE,
                   top=False, right=True)

    ax.set_title(TITLES[i], fontsize=7.8, y=1 + 19 / hpx, va="center", pad=0)
    ax.set_xlabel("Iteration", fontsize=7.8, va="center")
    ax.xaxis.set_label_coords(0.5, -71 / hpx)
    ax.set_ylabel("Average Fitness", fontsize=7.8, va="center")
    ax.yaxis.set_label_coords((YLABEL_X[c] - left) / wpx, 0.5)

handles = [Line2D([], [], color=COLORS[k], marker=MARKERS[k], markersize=5.5, linewidth=2.4,
                  markeredgecolor=COLORS[k]) for k in range(5)]
leg = fig.legend(handles, ALGOS, loc="upper left", bbox_to_anchor=(3676 / W, 1 - 2375 / H),
                 borderaxespad=0, fontsize=13, frameon=True, fancybox=False, edgecolor="#222222",
                 handlelength=2.6, handletextpad=0.3, labelspacing=0.35, borderpad=0.45)
leg.get_frame().set_linewidth(1.1)

fig.savefig("out.png", dpi=300, facecolor="white")
